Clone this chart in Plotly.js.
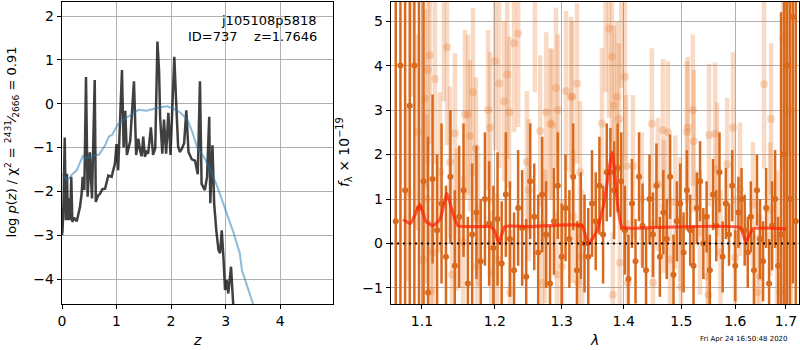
<!DOCTYPE html>
<html>
<head>
<meta charset="utf-8">
<script src="https://cdn.plot.ly/plotly-3.0.1.min.js"></script>
<style>html,body{margin:0;padding:0;background:#fff;}#plot{width:800px;height:350px;}</style>
</head>
<body>
<div id="plot"></div>
<script>
// ---- Left panel: log p(z) ----
const zChi = [0.0,0.01,0.03,0.05,0.07,0.09,0.11,0.13,0.15,0.17,0.19,0.22,0.27,0.33,0.36,0.38,0.41,0.44,0.47,0.51,0.55,0.60,0.62,0.66,0.70,0.74,0.79,0.82,0.85,0.91,0.97,1.0,1.03,1.10,1.13,1.16,1.19,1.25,1.32,1.36,1.40,1.43,1.46,1.49,1.52,1.55,1.58,1.63,1.67,1.71,1.75,1.78,1.80,1.84,1.87,1.91,1.95,1.99,2.06,2.09,2.13,2.16,2.19,2.24,2.28,2.32,2.38,2.44,2.49,2.53,2.56,2.62,2.66,2.70,2.72,2.76,2.79,2.83,2.87,2.90,2.93,2.96,2.99,3.02,3.05,3.10,3.13,3.15];
const logpChi = [-3.0,-2.89,-2.16,-0.77,-2.66,-1.6,-2.66,-2.16,-2.66,-1.67,-2.7,-2.6,-2.68,-2.36,-2.05,-1.67,-1.97,0.61,-2.12,-1.11,-2.16,0.54,-2.24,-2.1,-2.05,-1.95,-1.94,-1.8,-1.64,-1.67,-1.37,-0.92,-1.52,0.77,-1.0,-0.16,-1.17,-0.86,0.51,-1.17,-0.8,-1.06,-1.2,-0.75,-1.21,-1.1,-1.14,-0.54,-1.17,-1.02,1.42,0.75,-0.32,-1.14,-0.36,-1.14,-0.21,-1.17,1.07,0.14,-0.98,-1.1,-1.05,-0.9,-0.15,-1.1,-1.27,-1.3,-1.61,0.51,-1.83,-1.97,-1.67,-0.3,-2.27,-0.95,-2.27,-2.89,-3.34,-3.41,-2.89,-3.49,-4.25,-4.02,-4.33,-3.72,-4.4,-4.8];
const zPrior = [0.0,0.05,0.1,0.18,0.27,0.33,0.38,0.45,0.54,0.68,0.79,0.86,0.92,1.03,1.19,1.31,1.40,1.55,1.68,1.80,1.93,2.05,2.17,2.30,2.39,2.48,2.61,2.73,2.85,3.0,3.15,3.26,3.30,3.48,3.55];
const logpPrior = [-1.64,-1.66,-1.75,-1.62,-1.52,-1.35,-1.2,-1.25,-1.2,-1.16,-0.95,-0.75,-0.71,-0.46,-0.31,-0.22,-0.14,-0.16,-0.12,-0.08,-0.06,-0.12,-0.2,-0.36,-0.65,-1.0,-1.23,-1.53,-1.9,-2.43,-2.96,-3.41,-3.8,-4.48,-4.75];

// ---- Right panel: spectrum ----
const lamDark = [1.066,1.072,1.078,1.084,1.090,1.096,1.102,1.108,1.114,1.120,1.126,1.132,1.138,1.144,1.150,1.156,1.162,1.168,1.174,1.180,1.186,1.192,1.198,1.204,1.210,1.216,1.222,1.228,1.234,1.240,1.246,1.252,1.258,1.264,1.270,1.276,1.282,1.288,1.294,1.300,1.306,1.312,1.318,1.324,1.330,1.336,1.342,1.348,1.354,1.360,1.366,1.372,1.378,1.384,1.390,1.396,1.402,1.408,1.414,1.420,1.426,1.432,1.438,1.444,1.450,1.456,1.462,1.468,1.474,1.480,1.486,1.492,1.498,1.504,1.510,1.516,1.522,1.528,1.534,1.540,1.546,1.552,1.558,1.564,1.570,1.576,1.582,1.588,1.594,1.600,1.606,1.612,1.618,1.624,1.630,1.636,1.642,1.648,1.654,1.660,1.666,1.672,1.678,1.684,1.690,1.696,1.702,1.708,1.714,1.720];
const fluxDark = [0.5,4.0,1.2,3.1,4.0,0.8,1.4,-1.1,1.45,0.3,0.9,-0.3,1.5,-0.5,0.6,1.2,-0.9,0.2,0.7,-0.4,1.0,0.45,-0.1,0.55,-0.45,1.1,0.1,-0.6,0.8,0.35,-0.75,1.4,0.6,-0.2,1.1,0.2,-0.9,0.5,1.3,-0.3,0.8,0.1,1.5,-0.6,0.4,0.0,-0.3,0.9,0.5,1.3,0.2,1.6,1.6,1.2,1.7,1.4,0.3,-0.8,0.9,-0.4,1.5,0.4,-0.6,1.0,0.2,1.3,-0.3,0.7,0.1,1.5,-0.7,0.5,0.9,-0.2,1.2,0.3,-0.5,0.8,1.4,0.0,0.6,-0.6,1.1,0.4,1.6,-0.3,0.9,0.2,1.3,-0.5,0.7,1.0,0.3,-0.2,0.6,-0.6,1.2,0.1,-0.4,0.8,-0.9,0.4,1.0,-0.5,0.2,2.0,4.0,1.0,5.1,0.5];
const errDark = [6,5.5,6,5,6,5,4.5,3.5,1.9,1.7,1.8,1.6,1.5,1.7,1.6,1.5,1.5,1.6,1.5,1.4,1.5,1.4,1.4,1.5,1.4,1.4,1.3,1.3,1.3,1.3,1.3,1.3,1.2,1.3,1.3,1.2,1.3,1.2,1.2,1.2,1.2,1.1,1.2,1.1,1.2,1.1,1.1,1.2,1.1,1.1,1.1,1.1,1.0,1.1,1.0,1.1,1.0,1.0,1.0,0.95,1.0,0.95,0.95,1.0,0.95,0.95,0.9,0.95,0.9,0.95,0.9,0.9,0.9,0.9,0.9,0.8,0.9,0.8,0.9,0.8,0.8,0.8,0.8,0.8,0.9,0.8,0.8,0.7,0.8,0.8,0.8,0.7,0.8,0.8,0.8,0.9,0.8,0.9,0.9,0.9,1.0,1.0,1.1,1.1,5,6,6,6,6,6];

const lamLight = [1.0817,1.0880,1.0947,1.1013,1.1038,1.1065,1.1078,1.1105,1.1118,1.1145,1.1172,1.1239,1.1290,1.1334,1.1375,1.1402,1.1443,1.1470,1.1555,1.1580,1.1622,1.1650,1.1692,1.1733,1.1747,1.1762,1.1905,1.1933,1.1950,1.2006,1.2034,1.2063,1.2136,1.2180,1.2209,1.2223,1.2282,1.2341,1.2470,1.2500,1.2590,1.2670,1.2701,1.2746,1.2761,1.2823,1.2850,1.2912,1.2928,1.2943,1.3005,1.3067,1.3146,1.3162,1.3178,1.3241,1.3257,1.3290,1.3321,1.3641,1.3700,1.3756,1.3805,1.3820,1.3838,1.3888,1.3921,1.3937,1.3960,1.4021,1.4040,1.4071,1.4158,1.4307,1.4481,1.4500,1.4585,1.4673,1.4690,1.4761,1.4797,1.4891,1.4978,1.4995,1.5100,1.5115,1.5208,1.5225,1.5338,1.5480,1.5495,1.5505,1.5618,1.5655,1.5718,1.5845,1.5956,1.5995,1.6089,1.6341,1.6422,1.6481,1.6560,1.6680,1.6699,1.6820,1.6880,1.6941,1.7050,1.7100];
const fluxLight = [1.15,5.8,2.5,-0.36,3.26,1.0,3.9,4.23,-1.08,-0.2,3.7,1.6,5.6,4.41,1.83,-0.7,2.48,0.54,0.02,2.9,2.9,2.42,3.4,2.14,-0.52,0.54,3.0,2.6,-0.66,4.1,-0.36,3.6,3.2,3.8,2.95,-1.1,4.5,4.72,1.83,1.2,5.7,2.53,-0.88,0.16,2.95,2.7,2.67,3.5,-0.7,3.0,-0.52,3.43,3.3,3.3,0.61,3.6,-0.88,1.6,-0.29,2.7,6.0,4.83,4.2,-1.15,3.1,3.3,2.8,-0.43,5.7,3.75,1.74,-0.88,1.74,1.0,2.69,-0.88,1.33,2.55,0.84,2.5,-0.36,0.93,0.54,-0.97,2.5,2.6,3.0,2.3,0.25,-0.74,-1.15,2.44,2.47,1.67,-0.2,1.78,2.6,-0.32,1.22,0.88,-1.1,-0.74,3.58,0.77,2.8,0.14,-1.1,4.6,6.0,3.0];
const errLight = [2.0,2.5,2.2,1.8,2.0,1.9,2.1,2.0,1.6,1.7,1.9,1.8,2.4,2.2,1.7,1.5,1.8,1.6,1.5,1.9,1.8,1.7,1.9,1.6,1.4,1.5,1.8,1.7,1.4,2.0,1.5,1.9,1.8,1.9,1.7,1.4,2.0,2.1,1.6,1.6,2.3,1.7,1.4,1.5,1.8,1.7,1.7,1.8,1.4,1.7,1.5,1.8,1.8,1.7,1.5,1.8,1.4,1.6,1.5,1.7,2.6,2.0,1.9,1.4,1.8,1.7,1.7,1.5,2.2,1.9,1.6,1.4,1.6,1.5,1.7,1.4,1.5,1.6,1.5,1.6,1.4,1.5,1.4,1.3,1.6,1.6,1.7,1.6,1.4,1.4,1.3,1.6,1.6,1.5,1.4,1.5,1.7,1.4,1.5,1.4,1.3,1.4,1.9,1.5,1.7,1.5,1.5,3.0,4.0,5.0];

const lamModel = [1.0753,1.085,1.0973,1.105,1.1145,1.124,1.1334,1.141,1.1484,1.17,1.1933,1.199,1.206,1.2147,1.25,1.3321,1.3416,1.3562,1.368,1.3810,1.3970,1.45,1.6089,1.6205,1.6341,1.700];
const fluxModel = [0.54,0.45,0.88,0.5,0.40,0.55,1.13,0.7,0.40,0.38,0.38,0.30,0.02,0.38,0.38,0.40,-0.02,0.29,0.95,2.05,0.37,0.36,0.36,0.05,0.33,0.33];

const lamTicks = [1.1,1.2,1.3,1.4,1.5,1.6,1.7];
const lamTickText = ['1.1','1.2','1.3','1.4','1.5','1.6','1.7'];

const FONT = 'DejaVu Sans, sans-serif';
const darkOrange = '#d9691c';
const lightOrange = 'rgba(230,120,40,0.27)';

const traces = [
  {x: zChi, y: logpChi, type: 'scatter', mode: 'lines', xaxis: 'x', yaxis: 'y',
   line: {color: 'rgba(0,0,0,0.75)', width: 2.5}, hoverinfo: 'skip'},
  {x: zPrior, y: logpPrior, type: 'scatter', mode: 'lines', xaxis: 'x', yaxis: 'y',
   line: {color: 'rgba(31,119,180,0.5)', width: 2}, hoverinfo: 'skip'},
  {x: lamLight, y: fluxLight, type: 'scatter', mode: 'markers', xaxis: 'x2', yaxis: 'y2',
   marker: {color: lightOrange, size: 8, line: {width: 0}},
   error_y: {type: 'data', array: errLight, color: lightOrange, thickness: 4.5, width: 0}},
  {x: lamDark, y: fluxDark, type: 'scatter', mode: 'markers', xaxis: 'x2', yaxis: 'y2',
   marker: {color: darkOrange, size: 6, line: {width: 0}},
   error_y: {type: 'data', array: errDark, color: darkOrange, thickness: 2.5, width: 0}},
  {x: lamModel, y: fluxModel, type: 'scatter', mode: 'lines', xaxis: 'x2', yaxis: 'y2',
   line: {color: 'rgba(255,30,0,0.7)', width: 3.2, shape: 'spline', smoothing: 0.4}}
];

const axCommon = {
  showline: true, mirror: true, linecolor: '#000', linewidth: 1.3,
  ticks: 'outside', ticklen: 4, tickcolor: '#000', tickwidth: 1,
  showgrid: true, gridcolor: '#b0b0b0', gridwidth: 1, zeroline: false,
  tickfont: {family: FONT, size: 14, color: '#000'}
};

const layout = {
  width: 800, height: 350,
  margin: {l: 62, r: 1, t: 2, b: 46},
  paper_bgcolor: '#fff', plot_bgcolor: '#fff',
  showlegend: false,
  font: {family: FONT, color: '#000'},
  xaxis: Object.assign({}, axCommon, {domain: [0, 0.3677], range: [0, 4.97], dtick: 1, tick0: 0, anchor: 'y'}),
  yaxis: Object.assign({}, axCommon, {domain: [0, 1], range: [-4.57, 2.32], dtick: 1, tick0: 0, anchor: 'x'}),
  xaxis2: Object.assign({}, axCommon, {domain: [0.4464, 1], type: 'log', range: [0.02529, 0.2372],
           tickvals: lamTicks, ticktext: lamTickText, anchor: 'y2'}),
  yaxis2: Object.assign({}, axCommon, {domain: [0, 1], range: [-1.36, 5.43], dtick: 1, tick0: 0, anchor: 'x2'}),
  shapes: [
    {type: 'line', xref: 'x2 domain', yref: 'y2', x0: 0, x1: 1, y0: 0, y1: 0,
     line: {color: '#000', width: 2, dash: '2px,4px'}}
  ],
  annotations: [
    {text: 'j105108p5818', xref: 'paper', yref: 'paper', x: 0.3487, y: 0.940, xanchor: 'right', yanchor: 'middle',
     showarrow: false, font: {family: FONT, size: 13}},
    {text: 'ID=737\u00a0\u00a0\u00a0\u00a0z=1.7646', xref: 'paper', yref: 'paper', x: 0.3487, y: 0.887, xanchor: 'right', yanchor: 'middle',
     showarrow: false, font: {family: FONT, size: 13}},
    {text: 'log <i>p</i>(<i>z</i>) / χ<sup>2</sup> = <sup>2431</sup>⁄<sub>2666</sub> = 0.91', xref: 'paper', yref: 'paper',
     x: -0.0678, y: 0.535, textangle: -90, xanchor: 'center', yanchor: 'middle', showarrow: false, font: {family: FONT, size: 13}},
    {text: '<i>z</i>', xref: 'paper', yref: 'paper', x: 0.1832, y: -0.119, xanchor: 'center', yanchor: 'middle',
     showarrow: false, font: {family: FONT, size: 14}},
    {text: '<i>f</i><sub>λ</sub> × 10<sup>−19</sup>', xref: 'paper', yref: 'paper', x: 0.3826, y: 0.503, textangle: -90,
     xanchor: 'center', yanchor: 'middle', showarrow: false, font: {family: FONT, size: 14}},
    {text: '<i>λ</i>', xref: 'paper', yref: 'paper', x: 0.7232, y: -0.119, xanchor: 'center', yanchor: 'middle',
     showarrow: false, font: {family: FONT, size: 14}},
    {text: 'Fri Apr 24 16:50:48 2020', xref: 'paper', yref: 'paper', x: 0.925, y: -0.116, xanchor: 'center', yanchor: 'middle',
     showarrow: false, font: {family: FONT, size: 7}}
  ]
};

Plotly.newPlot('plot', traces, layout, {staticPlot: true, displayModeBar: false});
</script>
</body>
</html>
